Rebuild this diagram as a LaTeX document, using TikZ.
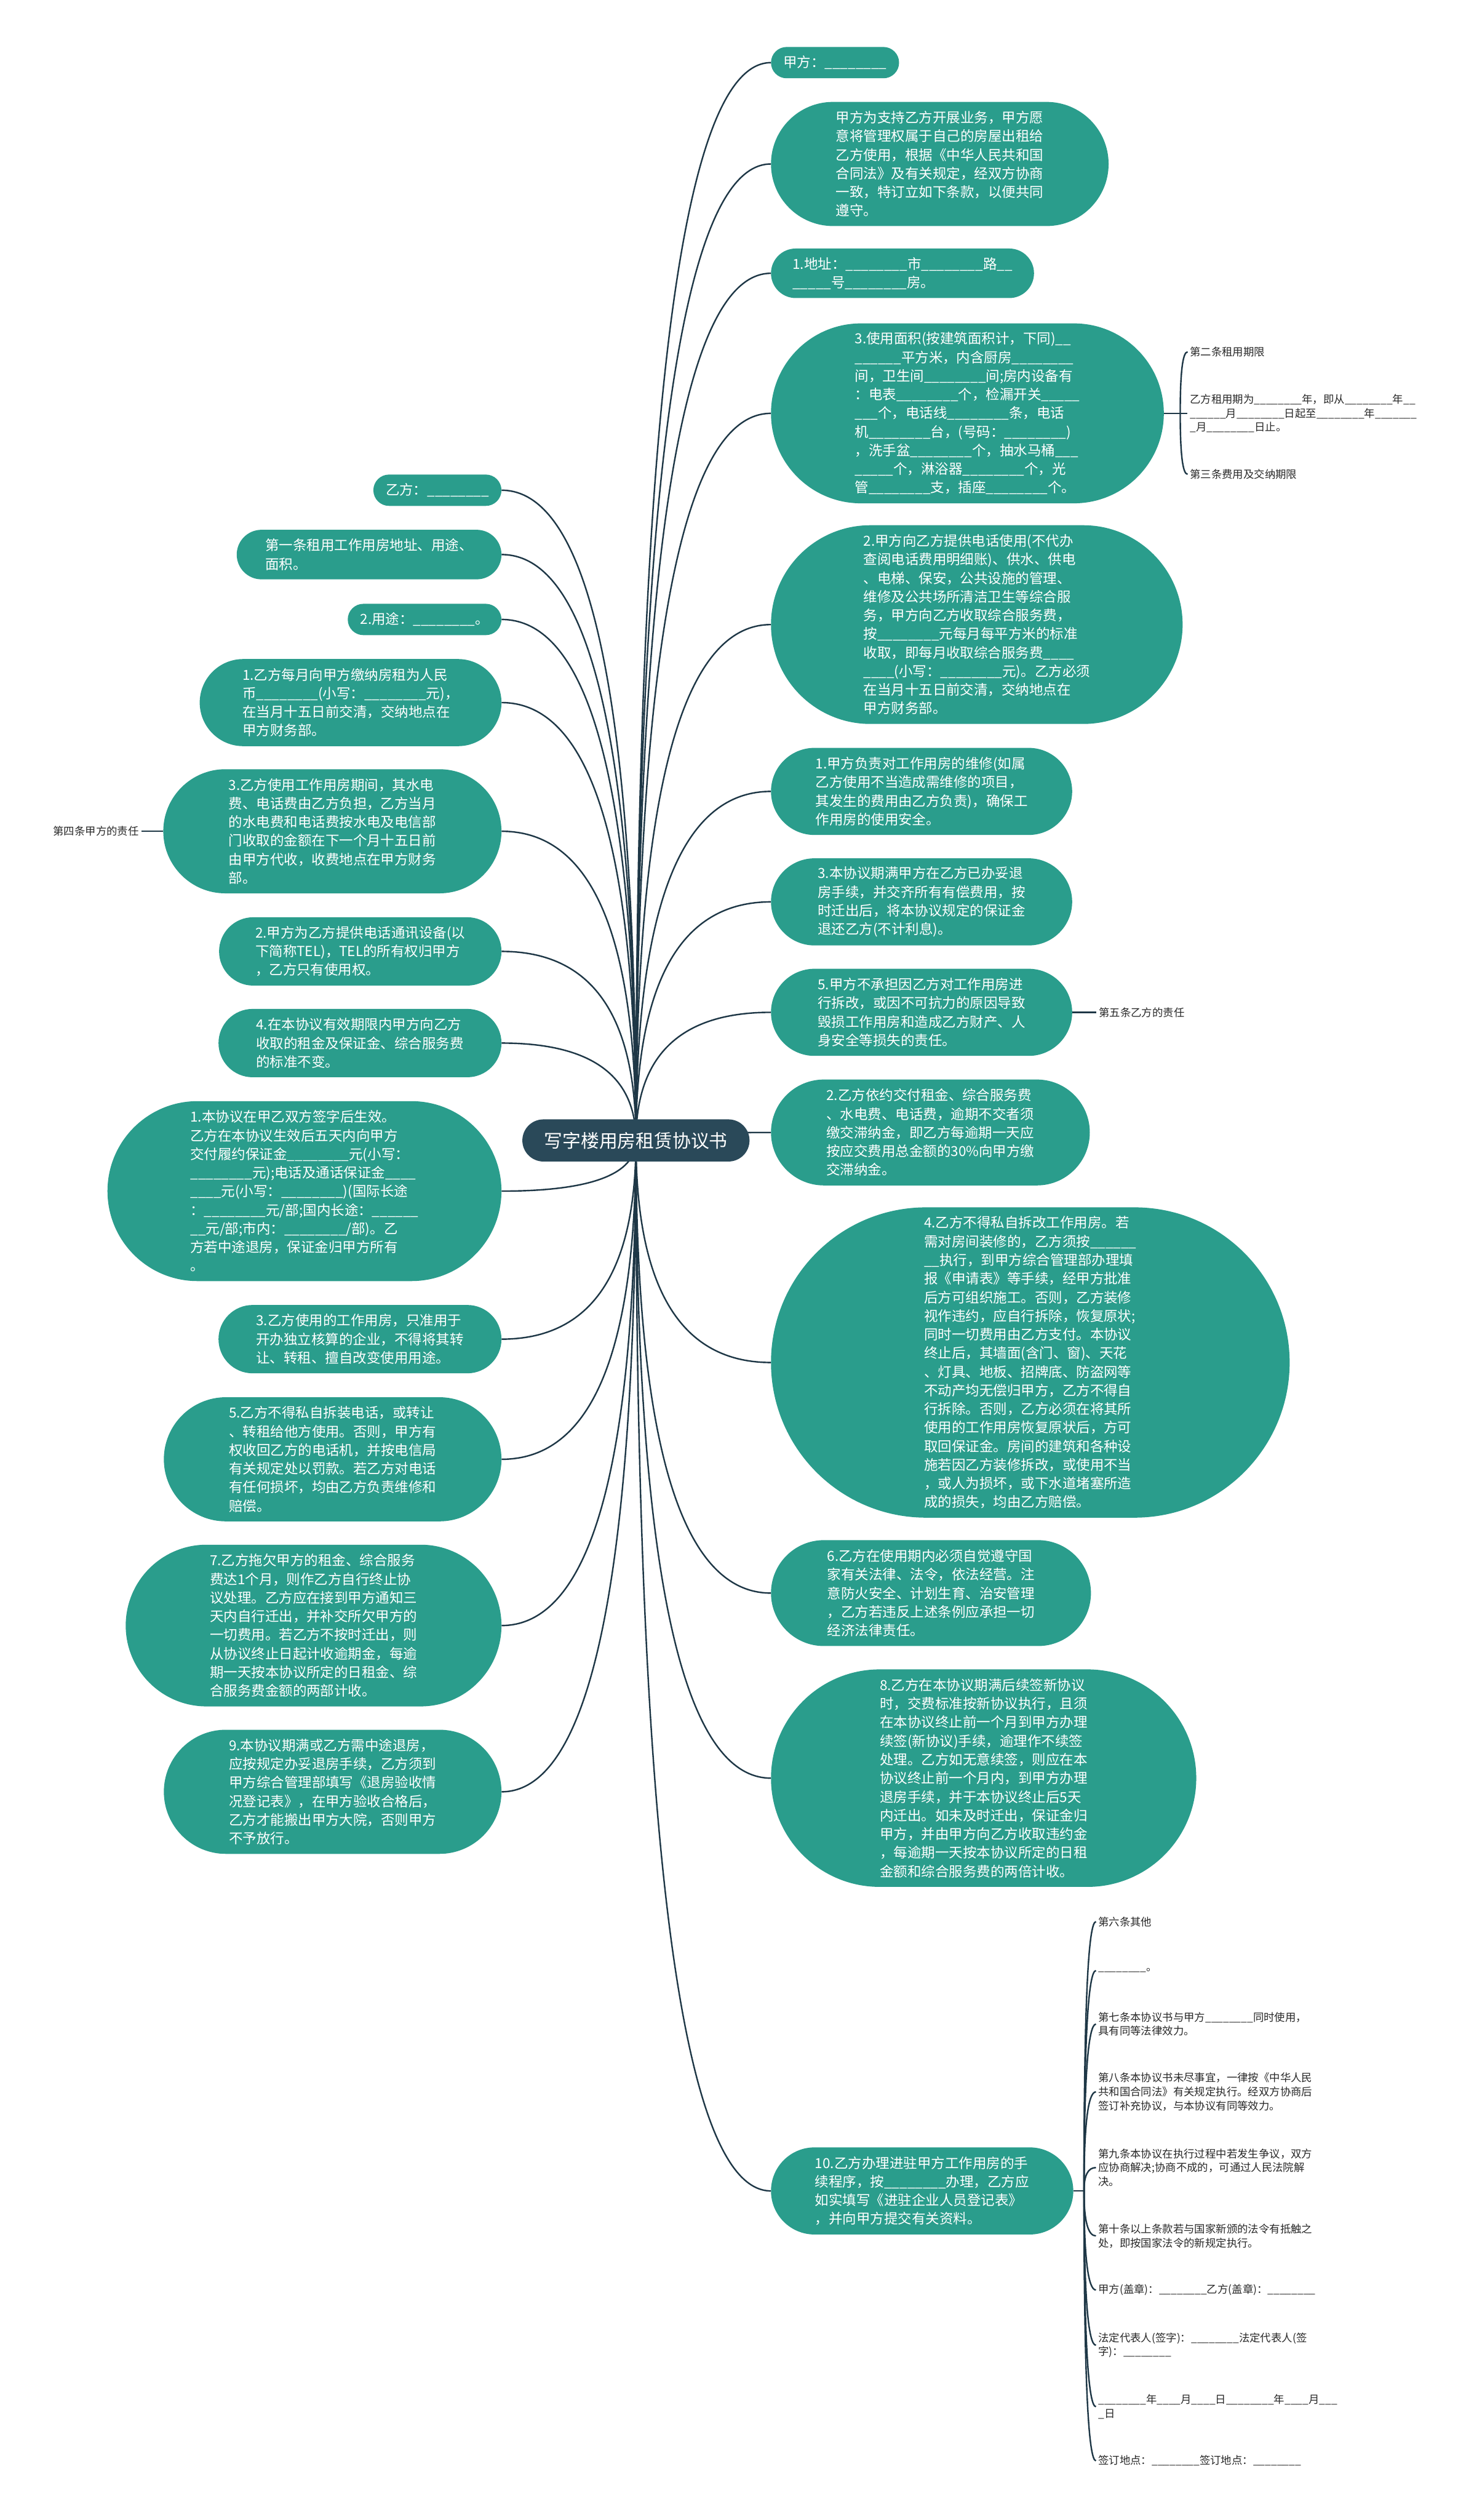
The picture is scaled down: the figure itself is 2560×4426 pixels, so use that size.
\documentclass[tikz,border=0pt]{standalone}
\usepackage{fontspec}
\setmainfont{Noto Sans CJK SC}
\usetikzlibrary{shapes.misc,calc,backgrounds}
\definecolor{teal1}{RGB}{42,157,140}
\definecolor{hub}{RGB}{42,73,89}
\definecolor{linec}{RGB}{30,55,70}
\definecolor{labc}{RGB}{40,40,40}
\newcommand\mmlink[2]{\draw[conn] (#1) .. controls ($(#1)!0.667!(#1 |- #2)$) and ($(#2)!0.667!(#1 |- #2)$) .. (#2);}
\begin{document}
\catcode`\_=12
\begin{tikzpicture}[x=1pt,y=-1pt,
  tbox/.style 2 args={shape=rounded rectangle, fill=teal1, text=white, inner xsep=0pt, inner ysep=0pt, minimum height=#1, minimum width=#2, align=left, font=\fontsize{24.3}{32.7}\selectfont},
  hubbox/.style={shape=rounded rectangle, fill=hub, text=white, inner xsep=0pt, inner ysep=0pt, minimum height=74pt, minimum width=399pt, font=\fontsize{32.2}{40}\selectfont},
  lab/.style={inner xsep=4pt, inner ysep=0pt, align=left, text=labc, font=\fontsize{18.8}{24.5}\selectfont},
  conn/.style={draw=linec, line width=2.6pt}
]
\useasboundingbox (0,0) rectangle (2560,4426);

% hub
\node[hubbox] (c) at (1117,2003) {写字楼用房租赁协议书};

% right side
\node[tbox={55pt}{225pt}, anchor=west] (r1) at (1354,110) {甲方：________};
\node[tbox={218pt}{593pt}, anchor=west] (r2) at (1354,288) {甲方为支持乙方开展业务，甲方愿\\意将管理权属于自己的房屋出租给\\乙方使用，根据《中华人民共和国\\合同法》及有关规定，经双方协商\\一致，特订立如下条款，以便共同\\遵守。};
\node[tbox={87pt}{462pt}, anchor=west] (r3) at (1354,480) {1.地址：________市________路__\\_____号________房。};
\node[tbox={316pt}{690pt}, anchor=west] (r4) at (1354,726) {3.使用面积(按建筑面积计，下同)__\\______平方米，内含厨房________\\间，卫生间________间;房内设备有\\：电表________个，检漏开关_____\\___个，电话线________条，电话\\机________台，(号码：________)\\，洗手盆________个，抽水马桶___\\_____个，淋浴器________个，光\\管________支，插座________个。};
\node[tbox={349pt}{723pt}, anchor=west] (r5) at (1354,1097) {2.甲方向乙方提供电话使用(不代办\\查阅电话费用明细账)、供水、供电\\、电梯、保安，公共设施的管理、\\维修及公共场所清洁卫生等综合服\\务，甲方向乙方收取综合服务费，\\按________元每月每平方米的标准\\收取，即每月收取综合服务费____\\____(小写：________元)。乙方必须\\在当月十五日前交清，交纳地点在\\甲方财务部。};
\node[tbox={153pt}{529pt}, anchor=west] (r6) at (1354,1390) {1.甲方负责对工作用房的维修(如属\\乙方使用不当造成需维修的项目，\\其发生的费用由乙方负责)，确保工\\作用房的使用安全。};
\node[tbox={153pt}{529pt}, anchor=west] (r7) at (1354,1584) {3.本协议期满甲方在乙方已办妥退\\房手续，并交齐所有有偿费用，按\\时迁出后，将本协议规定的保证金\\退还乙方(不计利息)。};
\node[tbox={153pt}{529pt}, anchor=west] (r8) at (1354,1778) {5.甲方不承担因乙方对工作用房进\\行拆改，或因不可抗力的原因导致\\毁损工作用房和造成乙方财产、人\\身安全等损失的责任。};
\node[tbox={186pt}{560pt}, anchor=west] (r9) at (1354,1989) {2.乙方依约交付租金、综合服务费\\、水电费、电话费，逾期不交者须\\缴交滞纳金，即乙方每逾期一天应\\按应交费用总金额的30\%向甲方缴\\交滞纳金。};
\node[tbox={545pt}{911pt}, anchor=west] (r10) at (1354,2393) {4.乙方不得私自拆改工作用房。若\\需对房间装修的，乙方须按______\\__执行，到甲方综合管理部办理填\\报《申请表》等手续，经甲方批准\\后方可组织施工。否则，乙方装修\\视作违约，应自行拆除，恢复原状;\\同时一切费用由乙方支付。本协议\\终止后，其墙面(含门、窗)、天花\\、灯具、地板、招牌底、防盗网等\\不动产均无偿归甲方，乙方不得自\\行拆除。否则，乙方必须在将其所\\使用的工作用房恢复原状后，方可\\取回保证金。房间的建筑和各种设\\施若因乙方装修拆改，或使用不当\\，或人为损坏，或下水道堵塞所造\\成的损失，均由乙方赔偿。};
\node[tbox={186pt}{562pt}, anchor=west] (r11) at (1354,2798) {6.乙方在使用期内必须自觉遵守国\\家有关法律、法令，依法经营。注\\意防火安全、计划生育、治安管理\\，乙方若违反上述条例应承担一切\\经济法律责任。};
\node[tbox={382pt}{747pt}, anchor=west] (r12) at (1354,3123) {8.乙方在本协议期满后续签新协议\\时，交费标准按新协议执行，且须\\在本协议终止前一个月到甲方办理\\续签(新协议)手续，逾理作不续签\\处理。乙方如无意续签，则应在本\\协议终止前一个月内，到甲方办理\\退房手续，并于本协议终止后5天\\内迁出。如未及时迁出，保证金归\\甲方，并由甲方向乙方收取违约金\\，每逾期一天按本协议所定的日租\\金额和综合服务费的两倍计收。};
\node[tbox={153pt}{531pt}, anchor=west] (r13) at (1354,3848) {10.乙方办理进驻甲方工作用房的手\\续程序，按________办理，乙方应\\如实填写《进驻企业人员登记表》\\，并向甲方提交有关资料。};

% left side
\node[tbox={55pt}{225pt}, anchor=east] (l1) at (881,861) {乙方：________};
\node[tbox={87pt}{465pt}, anchor=east] (l2) at (881,974) {第一条租用工作用房地址、用途、\\面积。};
\node[tbox={55pt}{270pt}, anchor=east] (l3) at (881,1088) {2.用途：________。};
\node[tbox={153pt}{530pt}, anchor=east] (l4) at (881,1234) {1.乙方每月向甲方缴纳房租为人民\\币________(小写：________元)，\\在当月十五日前交清，交纳地点在\\甲方财务部。};
\node[tbox={218pt}{594pt}, anchor=east] (l5) at (881,1460) {3.乙方使用工作用房期间，其水电\\费、电话费由乙方负担，乙方当月\\的水电费和电话费按水电及电信部\\门收取的金额在下一个月十五日前\\由甲方代收，收费地点在甲方财务\\部。};
\node[tbox={120pt}{496pt}, anchor=east] (l6) at (881,1671) {2.甲方为乙方提供电话通讯设备(以\\下简称TEL)，TEL的所有权归甲方\\，乙方只有使用权。};
\node[tbox={120pt}{497pt}, anchor=east] (l7) at (881,1832) {4.在本协议有效期限内甲方向乙方\\收取的租金及保证金、综合服务费\\的标准不变。};
\node[tbox={316pt}{692pt}, anchor=east] (l8) at (881,2092) {1.本协议在甲乙双方签字后生效。\\乙方在本协议生效后五天内向甲方\\交付履约保证金________元(小写：\\________元);电话及通话保证金____\\____元(小写：________)(国际长途\\：________元/部;国内长途：______\\__元/部;市内：________/部)。乙\\方若中途退房，保证金归甲方所有\\。};
\node[tbox={120pt}{497pt}, anchor=east] (l9) at (881,2352) {3.乙方使用的工作用房，只准用于\\开办独立核算的企业，不得将其转\\让、转租、擅自改变使用用途。};
\node[tbox={218pt}{593pt}, anchor=east] (l10) at (881,2563) {5.乙方不得私自拆装电话，或转让\\、转租给他方使用。否则，甲方有\\权收回乙方的电话机，并按电信局\\有关规定处以罚款。若乙方对电话\\有任何损坏，均由乙方负责维修和\\赔偿。};
\node[tbox={284pt}{660pt}, anchor=east] (l11) at (881,2855) {7.乙方拖欠甲方的租金、综合服务\\费达1个月，则作乙方自行终止协\\议处理。乙方应在接到甲方通知三\\天内自行迁出，并补交所欠甲方的\\一切费用。若乙方不按时迁出，则\\从协议终止日起计收逾期金，每逾\\期一天按本协议所定的日租金、综\\合服务费金额的两部计收。};
\node[tbox={218pt}{593pt}, anchor=east] (l12) at (881,3147) {9.本协议期满或乙方需中途退房，\\应按规定办妥退房手续，乙方须到\\甲方综合管理部填写《退房验收情\\况登记表》，在甲方验收合格后，\\乙方才能搬出甲方大院，否则甲方\\不予放行。};

% small labels
\node[lab, anchor=west] (k2) at (2086,618) {第二条租用期限};
\node[lab, anchor=west] (k2b) at (2086,726) {乙方租用期为________年，即从________年__\\______月________日起至________年_______\\_月________日止。};
\node[lab, anchor=west] (k3) at (2086,833) {第三条费用及交纳期限};
\node[lab, anchor=west] (k5) at (1926,1778) {第五条乙方的责任};
\node[lab, anchor=east] (k4) at (248,1460) {第四条甲方的责任};

\node[lab, anchor=west] (m1) at (1925,3375) {第六条其他};
\node[lab, anchor=west] (m2) at (1925,3461) {________。};
\node[lab, anchor=west] (m3) at (1925,3555) {第七条本协议书与甲方________同时使用，\\具有同等法律效力。};
\node[lab, anchor=west] (m4) at (1925,3674) {第八条本协议书未尽事宜，一律按《中华人民\\共和国合同法》有关规定执行。经双方协商后\\签订补充协议，与本协议有同等效力。};
\node[lab, anchor=west] (m5) at (1925,3807) {第九条本协议在执行过程中若发生争议，双方\\应协商解决;协商不成的，可通过人民法院解\\决。};
\node[lab, anchor=west] (m6) at (1925,3927) {第十条以上条款若与国家新颁的法令有抵触之\\处，即按国家法令的新规定执行。};
\node[lab, anchor=west] (m7) at (1925,4022) {甲方(盖章)：________乙方(盖章)：________};
\node[lab, anchor=west] (m8) at (1925,4119) {法定代表人(签字)：________法定代表人(签\\字)：________};
\node[lab, anchor=west] (m9) at (1925,4227) {________年____月____日________年____月___\\_日};
\node[lab, anchor=west] (m10) at (1925,4322) {签订地点：________签订地点：________};

\coordinate (j4) at (2073,726);
\coordinate (j13) at (1904,3848);

\begin{scope}[on background layer]
\fill[white] (0,0) rectangle (2560,4426);
\foreach \n in {r1,r2,r3,r4,r5,r6,r7,r8,r9,r10,r11,r12,r13}{\mmlink{c.center}{\n.west}}
\foreach \n in {l1,l2,l3,l4,l5,l6,l7,l8,l9,l10,l11,l12}{\mmlink{c.center}{\n.east}}
\draw[conn] (r4.east) -- (j4);
\foreach \n in {k2,k2b,k3}{\mmlink{j4}{\n.west}}
\draw[conn] (r13.east) -- (j13);
\foreach \n in {m1,m2,m3,m4,m5,m6,m7,m8,m9,m10}{\mmlink{j13}{\n.west}}
\draw[conn] (r8.east) -- (k5.west);
\draw[conn] (k4.east) -- (l5.west);
\end{scope}
\end{tikzpicture}
\end{document}
